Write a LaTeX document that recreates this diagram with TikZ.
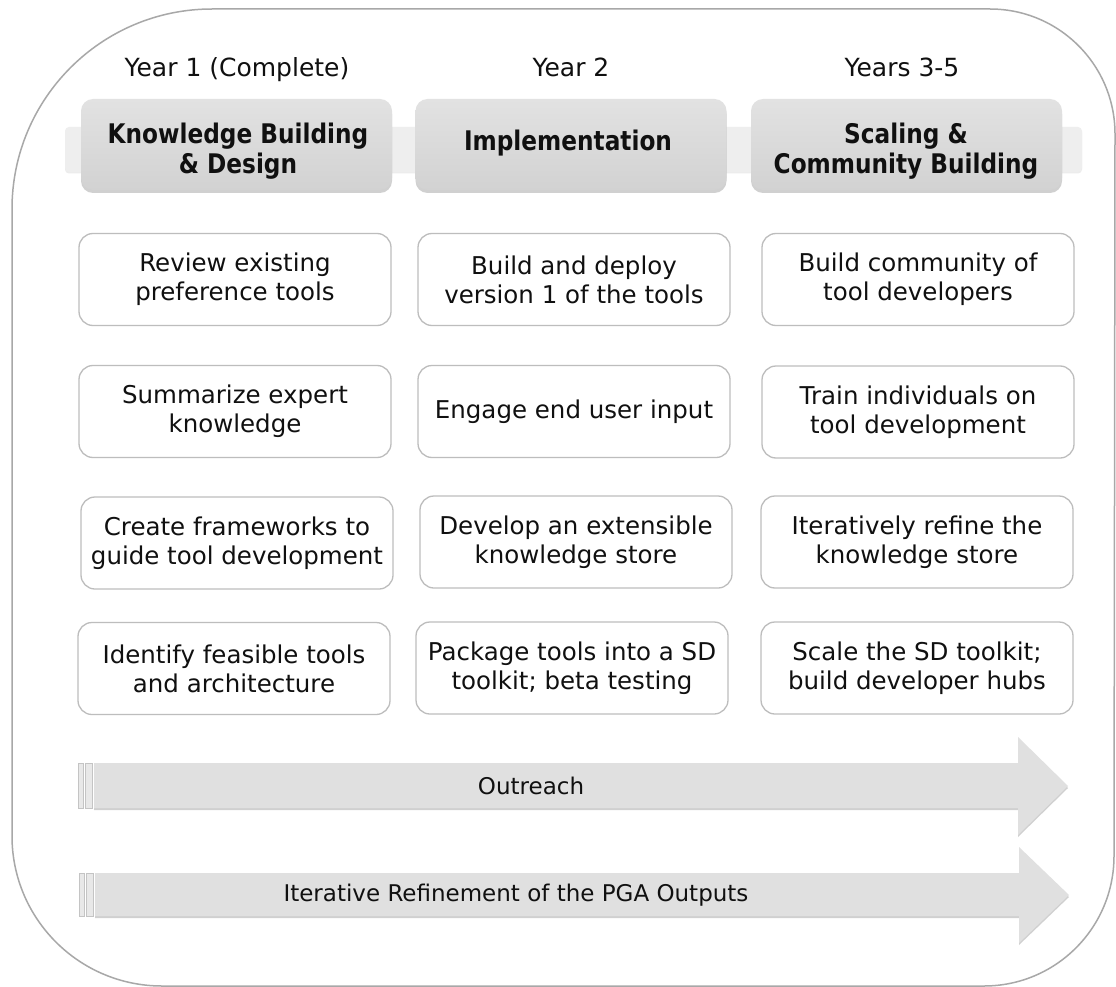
\documentclass[tikz,border=0pt]{standalone}
\usepackage{fontspec}
\setmainfont{DejaVu Sans}
\newfontfamily\hdfont{DejaVu Sans}[FakeStretch=0.86]
\usetikzlibrary{shadows}
\definecolor{framegray}{HTML}{A8A8A8}
\definecolor{boxgray}{HTML}{BDBDBD}
\definecolor{hdtop}{HTML}{E2E2E2}
\definecolor{hdbot}{HTML}{D2D2D2}
\definecolor{bandgray}{HTML}{EEEEEE}
\definecolor{arrowgray}{HTML}{E0E0E0}
\definecolor{stripegray}{HTML}{E8E8E8}
\definecolor{stripeedge}{HTML}{C4C4C4}
\definecolor{textblack}{HTML}{101010}
\tikzset{
  item/.style={draw=boxgray, line width=1.3pt, rounded corners=14pt, fill=white,
    minimum width=312pt, minimum height=92pt, align=center, text=textblack,
    inner sep=0pt, font=\fontsize{24.5}{29}\selectfont},
  head/.style={rounded corners=12pt, top color=hdtop, bottom color=hdbot,
    minimum width=311pt, minimum height=91pt, inner sep=0pt,
    drop shadow={shadow xshift=0pt, shadow yshift=-3pt, opacity=0.3, fill=black!60}},
  headtxt/.style={align=center, text=textblack, inner sep=0pt,
    font=\hdfont\bfseries\fontsize{27}{29.5}\selectfont},
  yearlbl/.style={anchor=base, text=textblack, inner sep=0pt, font=\fontsize{25}{30}\selectfont},
  arrowtxt/.style={text=textblack, inner sep=0pt, font=\fontsize{23}{28}\selectfont},
  arrowbody/.style={fill=arrowgray, drop shadow={shadow xshift=0pt, shadow yshift=-2pt, opacity=0.3, fill=black!60}},
  stripe/.style={fill=stripegray, draw=stripeedge, line width=0.6pt},
  band/.style={fill=bandgray, rounded corners=4pt, drop shadow={shadow xshift=0pt, shadow yshift=-1.5pt, opacity=0.15, fill=black!50}},
  frame/.style={draw=framegray, line width=1.5pt}
}
\begin{document}
\begin{tikzpicture}[x=1pt,y=-1pt]
\useasboundingbox (0,0) rectangle (1116,987);
\fill[white] (0,0) rectangle (1116,987);
% outer frame
\draw[frame] (12,836) -- (12,209) arc[start angle=180, end angle=270, radius=200]
  -- (990,9) arc[start angle=270, end angle=360, radius=125]
  -- (1114,856) arc[start angle=0, end angle=90, radius=130]
  -- (162,986) arc[start angle=90, end angle=180, radius=150] -- cycle;
% header band
\path[band] (65,127) rectangle (1082,172);
% year labels
\node[yearlbl] (y1) at (237,77) {Year 1 (Complete)};
\node[yearlbl] (y2) at (571,77) {Year 2};
\node[yearlbl] (y3) at (902,77) {Years 3-5};
% header boxes
\node[head] (h1) at (236.5,144.5) {};
\node[head] (h2) at (571,144.5) {};
\node[head] (h3) at (906.5,144.5) {};
\node[headtxt] (h1t) at (238,151) {Knowledge Building\\\& Design};
\node[headtxt] (h2t) at (568,143) {Implementation};
\node[headtxt] (h3t) at (906,151) {Scaling \&\\Community Building};
% content boxes
\node[item] (a1) at (235,279.5) {Review existing\\preference tools};
\node[item] (b1) at (574,279.5) {Build and deploy\\version 1 of the tools};
\node[item] (c1) at (918,279.5) {Build community of\\tool developers};
\node[item] (a2) at (235,411.5) {Summarize expert\\knowledge};
\node[item] (b2) at (574,411.5) {Engage end user input};
\node[item] (c2) at (918,412) {Train individuals on\\tool development};
\node[item] (a3) at (237,543) {Create frameworks to\\guide tool development};
\node[item] (b3) at (576,542) {Develop an extensible\\knowledge store};
\node[item] (c3) at (917,542) {Iteratively refine the\\knowledge store};
\node[item] (a4) at (234,668.5) {Identify feasible tools\\and architecture};
\node[item] (b4) at (572,668) {Package tools into a SD\\toolkit; beta testing};
\node[item] (c4) at (917,668) {Scale the SD toolkit;\\build developer hubs};
% arrows
\path[arrowbody] (94,763) -- (1018,763) -- (1018,737) -- (1068,786) -- (1018,835) -- (1018,808) -- (94,808) -- cycle;
\path[stripe] (78,763) rectangle (83,808);
\path[stripe] (85,763) rectangle (92,808);
\node[arrowtxt] (out) at (531,786) {Outreach};
\path[arrowbody] (95,873) -- (1019,873) -- (1019,847) -- (1069,895) -- (1019,943) -- (1019,916) -- (95,916) -- cycle;
\path[stripe] (79,873) rectangle (84,916);
\path[stripe] (86,873) rectangle (93,916);
\node[arrowtxt] (iter) at (516,895) {Iterative Refinement of the PGA Outputs};
\end{tikzpicture}
\end{document}
